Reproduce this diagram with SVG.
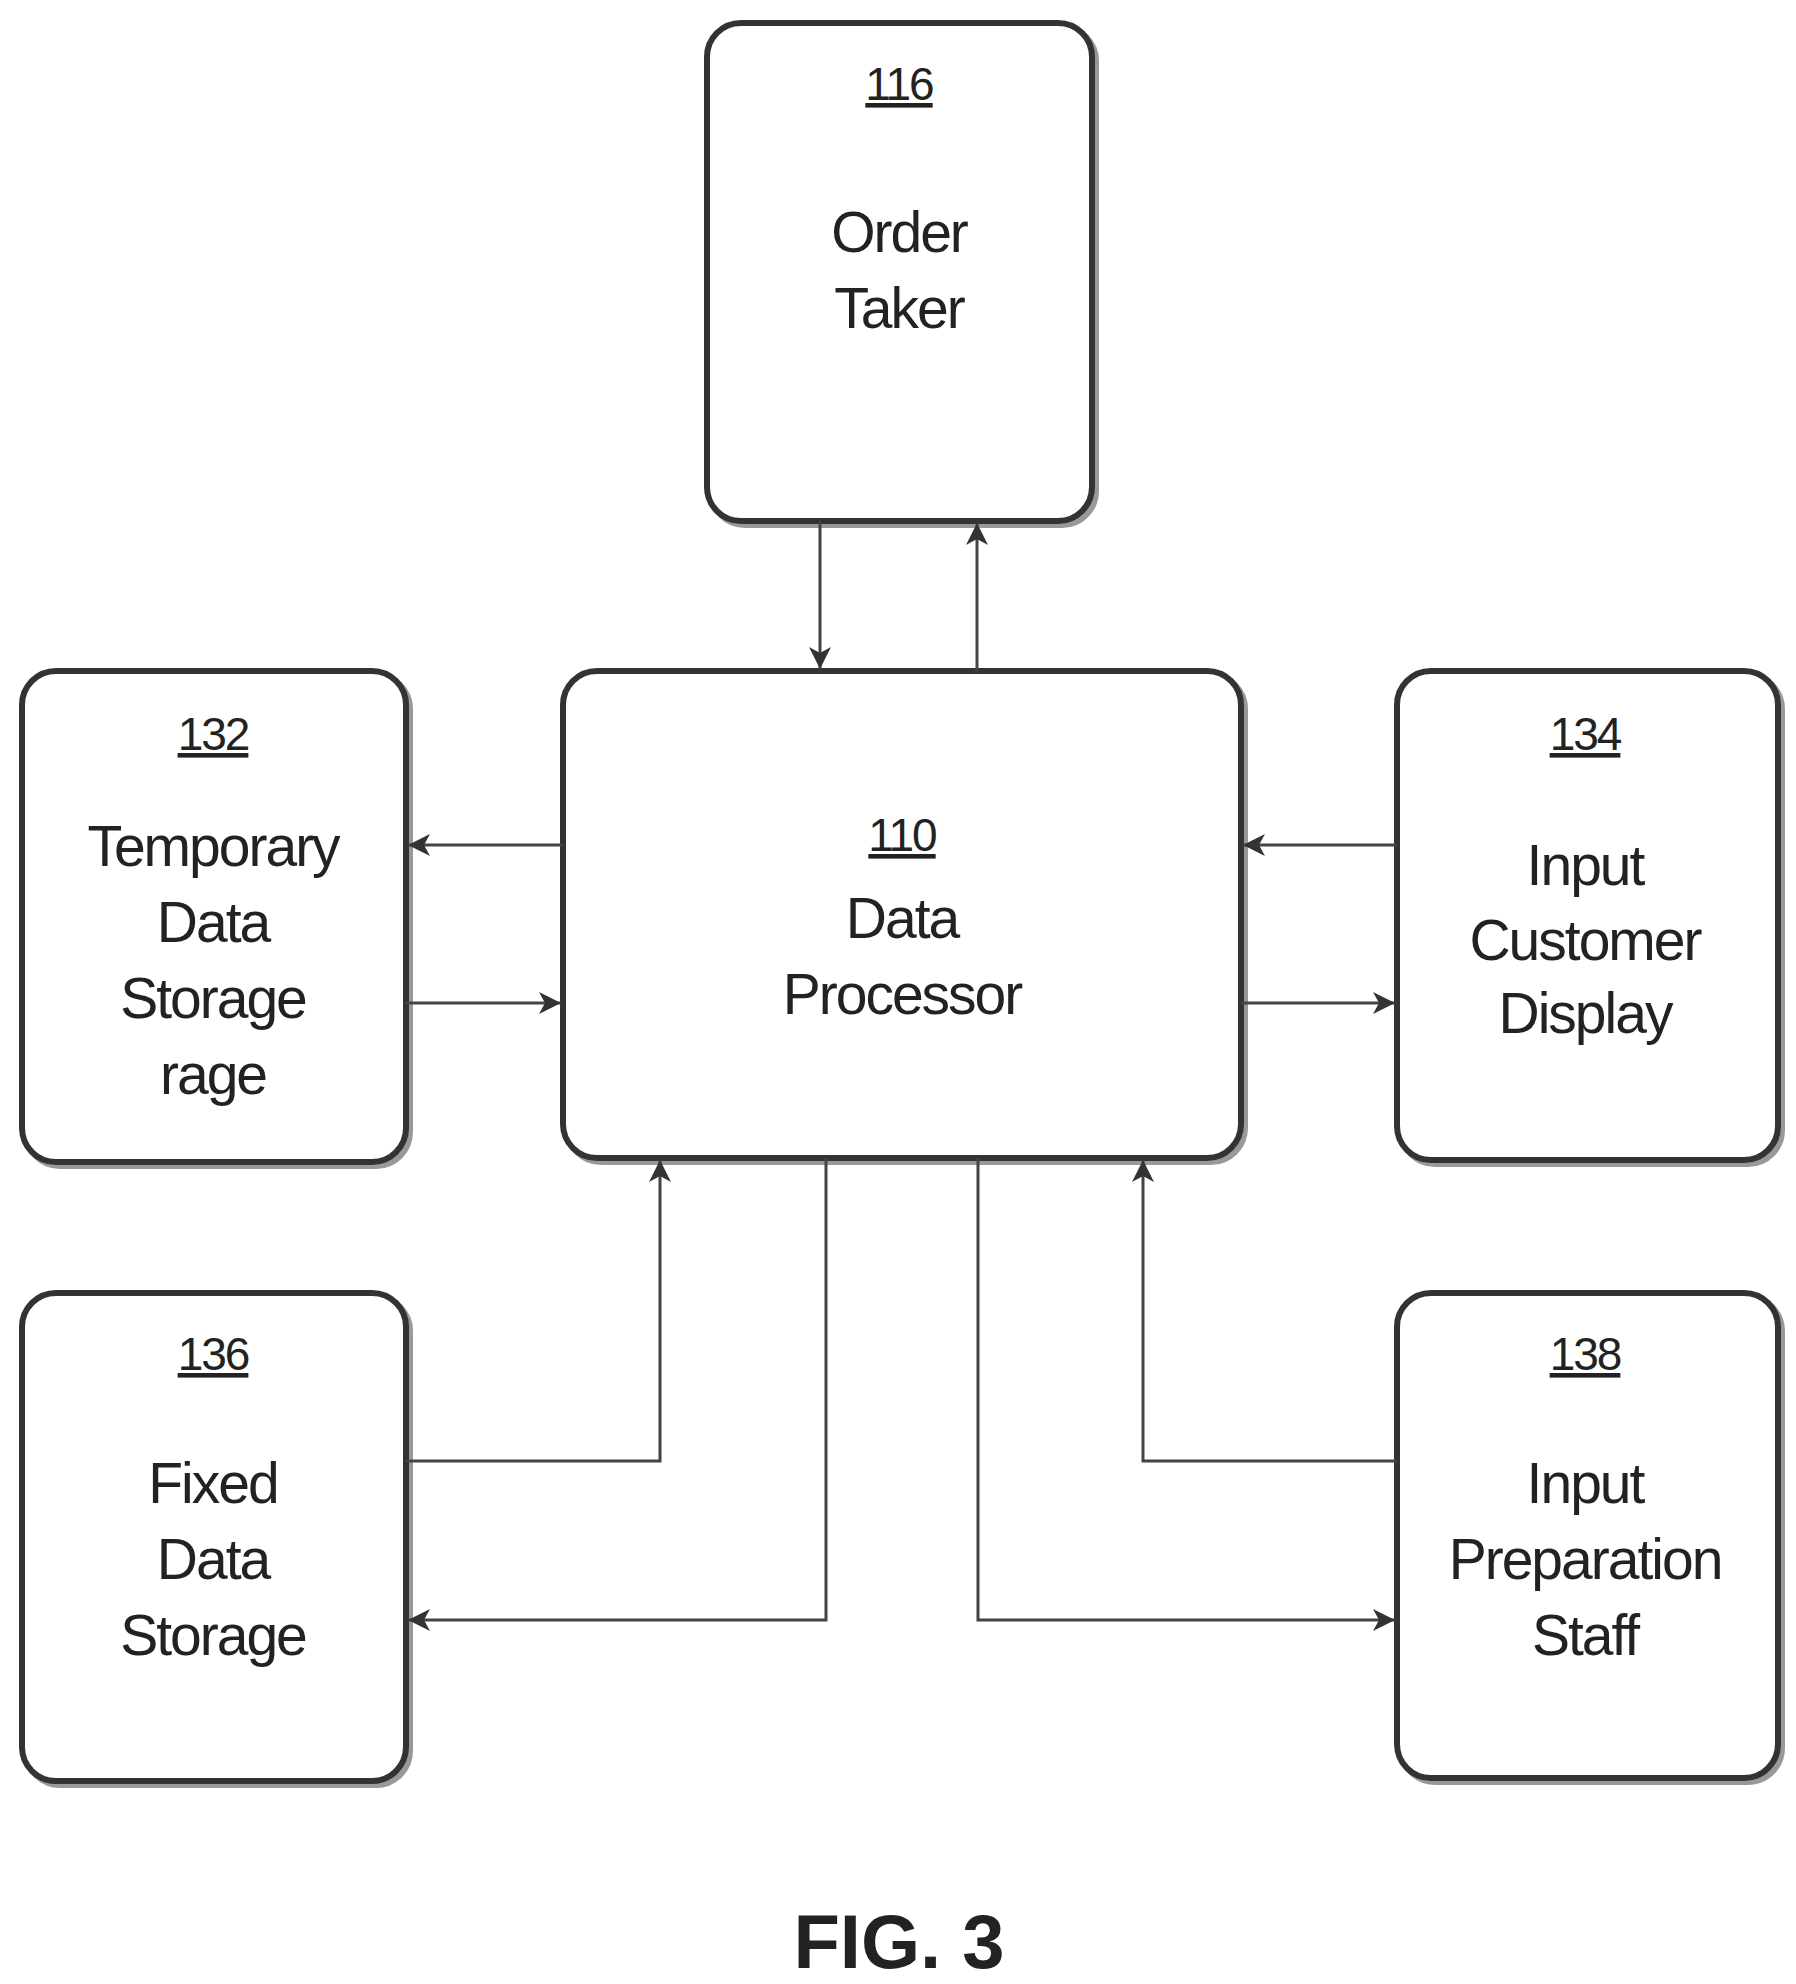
<svg xmlns="http://www.w3.org/2000/svg" width="1796" height="1984" viewBox="0 0 1796 1984">
<defs>
<marker id="a" markerWidth="24" markerHeight="22" refX="22" refY="11" orient="auto" markerUnits="userSpaceOnUse">
<path d="M0,0 L22,11 L0,22 L6,11 Z" fill="#333"/>
</marker>
</defs>
<style>
.box{fill:#fff;stroke:#333;stroke-width:6}
.sh{fill:none;stroke:#999;stroke-width:6}
.t{font-family:"Liberation Sans",Arial,sans-serif;font-size:57px;letter-spacing:-2px;fill:#222;text-anchor:middle}
.n{font-family:"Liberation Sans",Arial,sans-serif;font-size:46px;letter-spacing:-2px;fill:#222;text-anchor:middle;text-decoration:underline}
.c{fill:none;stroke:#444;stroke-width:3;marker-end:url(#a)}
</style>
<rect width="1796" height="1984" fill="#fff"/>
<g id="n116"><rect class="sh" x="711" y="27" width="385" height="498" rx="34"/><rect class="box" x="707" y="23" width="385" height="498" rx="34"/>
<text class="n" x="899" y="100">116</text><text class="t" x="899" y="252">Order</text><text class="t" x="899" y="328">Taker</text></g>
<g id="n132"><rect class="sh" x="26" y="675" width="384" height="491" rx="34"/><rect class="box" x="22" y="671" width="384" height="491" rx="34"/>
<text class="n" x="213" y="750">132</text><text class="t" x="213" y="866">Temporary</text><text class="t" x="213" y="942">Data</text><text class="t" x="213" y="1018">Storage</text><text class="t" x="213" y="1094">rage</text></g>
<g id="n110"><rect class="sh" x="567" y="675" width="678" height="487" rx="34"/><rect class="box" x="563" y="671" width="678" height="487" rx="34"/>
<text class="n" x="902" y="851">110</text><text class="t" x="902" y="938">Data</text><text class="t" x="902" y="1014">Processor</text></g>
<g id="n134"><rect class="sh" x="1401" y="675" width="381" height="489" rx="34"/><rect class="box" x="1397" y="671" width="381" height="489" rx="34"/>
<text class="n" x="1585" y="750">134</text><text class="t" x="1585" y="885">Input</text><text class="t" x="1585" y="960">Customer</text><text class="t" x="1585" y="1033">Display</text></g>
<g id="n136"><rect class="sh" x="26" y="1297" width="384" height="488" rx="34"/><rect class="box" x="22" y="1293" width="384" height="488" rx="34"/>
<text class="n" x="213" y="1370">136</text><text class="t" x="213" y="1503">Fixed</text><text class="t" x="213" y="1579">Data</text><text class="t" x="213" y="1655">Storage</text></g>
<g id="n138"><rect class="sh" x="1401" y="1297" width="381" height="485" rx="34"/><rect class="box" x="1397" y="1293" width="381" height="485" rx="34"/>
<text class="n" x="1585" y="1370">138</text><text class="t" x="1585" y="1503">Input</text><text class="t" x="1585" y="1579">Preparation</text><text class="t" x="1585" y="1655">Staff</text></g>
<g id="connectors">
<path class="c" d="M820,521 V669"/>
<path class="c" d="M977,671 V523"/>
<path class="c" d="M563,845 H408"/>
<path class="c" d="M406,1003 H561"/>
<path class="c" d="M1397,845 H1243"/>
<path class="c" d="M1241,1003 H1395"/>
<path class="c" d="M406,1461 H660 V1160"/>
<path class="c" d="M826,1158 V1620 H408"/>
<path class="c" d="M1397,1461 H1143 V1160"/>
<path class="c" d="M978,1158 V1620 H1395"/>
</g>
<text x="899" y="1968" font-family="'Liberation Sans',Arial,sans-serif" font-size="76" font-weight="bold" text-anchor="middle" fill="#222">FIG. 3</text>
</svg>
